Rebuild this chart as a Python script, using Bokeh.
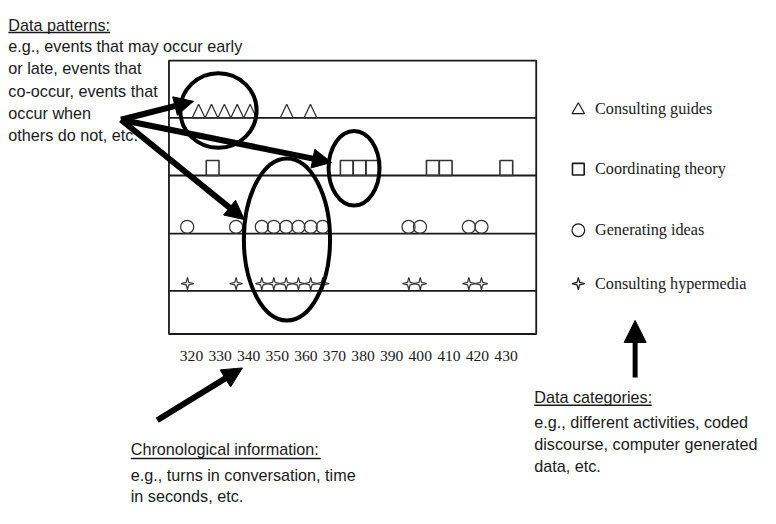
from bokeh.plotting import figure
from bokeh.models import Range1d, Arrow, NormalHead
from bokeh.core.properties import value
from bokeh.embed import file_html
from bokeh.resources import INLINE
import math

# ---------------- data ----------------
categories = ["Consulting guides", "Coordinating theory", "Generating ideas", "Consulting hypermedia"]
guides_t = [322.5, 327.0, 331.5, 336.0, 340.5, 353.3, 361.6]
theory_t = [327.4, 374.3, 378.8, 383.2, 404.4, 408.9, 430.1]
ideas_t = [318.5, 335.6, 344.6, 348.8, 353.1, 357.4, 361.7, 365.9, 395.9, 399.9, 417.0, 421.4]
hyper_t = [318.6, 335.6, 344.6, 348.8, 353.1, 357.4, 361.7, 365.9, 396.0, 400.0, 417.0, 421.4]
tick_values = [320, 330, 340, 350, 360, 370, 380, 390, 400, 410, 420, 430]
tick_labels = [str(v) for v in tick_values]

patterns_title = "Data patterns:"
patterns_lines = ["e.g., events that may occur early", "or late, events that",
                  "co-occur, events that", "occur when", "others do not, etc."]
chrono_title = "Chronological information:"
chrono_lines = ["e.g., turns in conversation, time", "in seconds, etc."]
cats_title = "Data categories:"
cats_lines = ["e.g., different activities, coded", "discourse, computer generated", "data, etc."]

# ---------------- layout helpers ----------------
PX = 2.92          # reference pixels per time unit
def U(px):         # reference pixel -> time units
    return 320 + (px - 195) / PX

REF_W, REF_H = 776, 524
W, H = 760, 508
K = 0.975          # screen-size scale (figure vs reference)

p = figure(width=W, height=H, x_range=Range1d(U(0), U(REF_W)), y_range=Range1d(REF_H, 0),
           output_backend="svg", toolbar_location=None, min_border=0,
           x_axis_type=None, y_axis_type=None, outline_line_color=None)
p.xgrid.visible = False
p.ygrid.visible = False
p.background_fill_color = "white"
p.border_fill_color = "white"

SANS = value("Liberation Sans")
SERIF = value("Liberation Serif")
INK = "#1a1a1a"
SANS_SIZE = "%.1fpx" % (16.6 * K)

# chart box and row lines
box_l, box_r, box_t, box_b = U(172), U(547), 62, 344
row_base = [121, 180.5, 240.5, 299.5]
p.quad(left=[box_l], right=[box_r], top=[box_t], bottom=[box_b],
       fill_color=None, line_color=INK, line_width=1.8)
p.segment(x0=[box_l] * 4, x1=[box_r] * 4, y0=row_base, y1=row_base, line_color=INK, line_width=1.8)

# triangles (consulting guides)
tw, th = 13 / PX, 14
p.patches(xs=[[t - tw / 2, t, t + tw / 2] for t in guides_t],
          ys=[[row_base[0], row_base[0] - th, row_base[0]] for _ in guides_t],
          fill_alpha=0, line_color="#333", line_width=1.3)

# squares (coordinating theory)
sw, sh = 13 / PX, 15.5
p.rect(x=theory_t, y=[row_base[1] - sh / 2] * len(theory_t), width=sw, height=sh,
       fill_color=None, line_color="#333", line_width=1.6)

# circles (generating ideas)
p.scatter(x=ideas_t, y=[row_base[2] - 7] * len(ideas_t), marker="circle", size=13.5 * K,
          fill_color=None, line_color="#333", line_width=1.2)

# four-point stars (consulting hypermedia)
def star(cx_units, cy, ro=6.5, ri=1.8):
    xs, ys = [], []
    for k in range(8):
        ang = math.pi / 2 + k * math.pi / 4
        r = ro if k % 2 == 0 else ri
        xs.append(cx_units + r * math.cos(ang) / PX)
        ys.append(cy - r * math.sin(ang))
    return xs, ys

st = [star(t, row_base[3] - 7.5) for t in hyper_t]
p.patches(xs=[s[0] for s in st], ys=[s[1] for s in st], fill_color="white",
          line_color="#333", line_width=1.2)

# tick labels
p.text(x=tick_values, y=[367] * len(tick_values), text=tick_labels, text_font=SERIF,
       text_font_size="%.1fpx" % (16 * K), text_align="center", text_baseline="alphabetic",
       text_color=INK)

# legend
leg_y = [112, 174, 237, 292]
lx = U(590)
p.scatter(x=[lx], y=[leg_y[0] + 1], marker="triangle", size=13 * K, fill_color=None, line_color=INK, line_width=1.2)
p.scatter(x=[lx], y=[leg_y[1]], marker="square", size=12 * K, fill_color=None, line_color=INK, line_width=1.6)
p.scatter(x=[lx], y=[leg_y[2]], marker="circle", size=13 * K, fill_color=None, line_color=INK, line_width=1.2)
ls = star(lx, leg_y[3])
p.patch(x=ls[0], y=ls[1], fill_color="white", line_color=INK, line_width=1.2)
p.text(x=[U(607)] * 4, y=leg_y, text=categories, text_font=SERIF,
       text_font_size="%.1fpx" % (16.6 * K), text_align="left", text_baseline="middle",
       text_color=INK)

# highlight ellipses
p.ellipse(x=[U(222.5), U(361), U(292.5)], y=[113.5, 173, 246.5],
          width=[78 / PX, 52 / PX, 88 / PX], height=[77, 77, 167],
          fill_color=None, line_color="black", line_width=4)

# arrows
def arrow(x0, y0, x1, y1, size=18, lw=6):
    p.add_layout(Arrow(end=NormalHead(size=size, fill_color="black", line_color="black", line_width=1),
                       x_start=U(x0), y_start=y0, x_end=U(x1), y_end=y1,
                       line_color="black", line_width=lw))

arrow(123, 123, 197, 104, size=19)
arrow(123, 123, 338, 167, size=19)
arrow(123, 123, 249, 226, size=19)
arrow(160, 433, 247, 379, size=20, lw=6)
arrow(648, 389, 648, 330, size=22, lw=5)

# annotation texts
def block(x, title, title_base, underline_y, underline_end, lines, bases):
    p.text(x=[U(x)], y=[title_base], text=[title], text_font=SANS, text_font_size=SANS_SIZE,
           text_align="left", text_baseline="alphabetic", text_color=INK)
    p.segment(x0=[U(x)], x1=[U(underline_end)], y0=[underline_y], y1=[underline_y],
              line_color=INK, line_width=1.5)
    p.text(x=[U(x)] * len(lines), y=bases, text=lines,
           text_font=SANS, text_font_size=SANS_SIZE, text_align="left", text_baseline="alphabetic",
           text_color=INK)

block(8, patterns_title, 25, 33, 112, patterns_lines, [47, 70, 93, 116, 139])
block(133, chrono_title, 463, 472.5, 327, chrono_lines, [489, 511])
block(545, cats_title, 409, 417.5, 665, cats_lines, [435, 457.5, 480])

open("out.html", "w").write(file_html(p, INLINE))
